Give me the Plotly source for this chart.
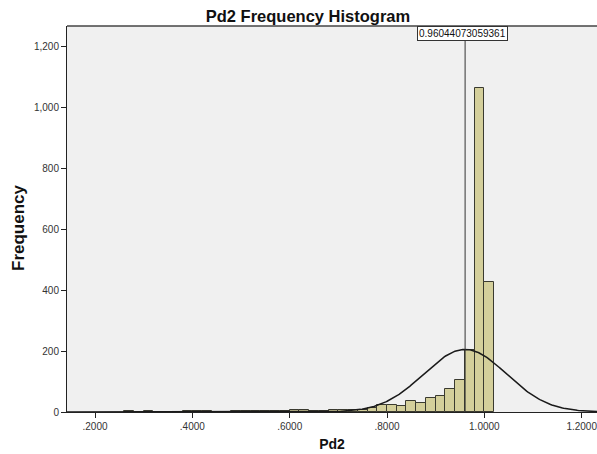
import numpy as np
import plotly.graph_objects as go

# ---- data ----
bin_width = 0.02
bin_lo = [0.26, 0.28, 0.30, 0.34, 0.38, 0.40, 0.42, 0.46, 0.48, 0.50, 0.52, 0.54,
          0.56, 0.58, 0.60, 0.62, 0.64, 0.66, 0.68, 0.70, 0.72, 0.74, 0.76, 0.78,
          0.80, 0.82, 0.84, 0.86, 0.88, 0.90, 0.92, 0.94, 0.96, 0.98, 1.00]
counts = [3, 1, 2, 1, 2, 4, 2, 1, 2, 3, 2, 2,
          3, 3, 6, 5, 4, 4, 5, 6, 7, 8, 14, 22,
          22, 20, 37, 30, 46, 54, 76, 105, 204, 1061, 425]
mean_val = 0.96044073059361
std_val = 0.0853
x_ticks = [0.2, 0.4, 0.6, 0.8, 1.0, 1.2]
x_tick_labels = [".2000", ".4000", ".6000", ".8000", "1.0000", "1.2000"]
y_ticks = [0, 200, 400, 600, 800, 1000, 1200]
y_tick_labels = ["0", "200", "400", "600", "800", "1,000", "1,200"]

centers = [b + bin_width / 2 for b in bin_lo]
n_total = sum(counts)

xs = np.linspace(0.1425, 1.2315, 400)
ys = n_total * bin_width / (std_val * np.sqrt(2 * np.pi)) * np.exp(-0.5 * ((xs - mean_val) / std_val) ** 2)

fig = go.Figure()
fig.add_trace(go.Bar(
    x=centers, y=counts, width=bin_width,
    marker=dict(color="#D4CF9B", line=dict(color="#3a3a30", width=1)),
    hoverinfo="x+y", showlegend=False,
))
fig.add_trace(go.Scatter(
    x=xs, y=ys, mode="lines", line=dict(color="#1a1a1a", width=1.5),
    showlegend=False, hoverinfo="skip",
))

fig.add_shape(type="line", x0=mean_val, x1=mean_val, y0=0, y1=1, yref="paper",
              line=dict(color="#333333", width=1))
fig.add_annotation(x=mean_val, y=1, yref="paper", xanchor="center", yanchor="top",
                   text=f"{mean_val:.14f}", showarrow=False, xshift=-3,
                   font=dict(family="Arial, Liberation Sans", size=10, color="#111111"),
                   bgcolor="white", bordercolor="#333333", borderwidth=1, borderpad=1)

W, H = 597, 454
ML, MR, MT, MB = 67, 0, 26, 42
fig.update_layout(
    width=W, height=H,
    margin=dict(l=ML, r=MR, t=MT, b=MB, autoexpand=False),
    paper_bgcolor="white", plot_bgcolor="#F0F0F0",
    font=dict(family="Arial, Liberation Sans", color="#222222"),
    bargap=0,
    title=dict(text="<b>Pd2 Frequency Histogram</b>", x=308 / W, xanchor="center",
               y=1 - 16 / H, yanchor="middle", font=dict(size=16.5, color="#111111")),
)
fig.update_xaxes(
    range=[0.14247, 1.23145], tickvals=x_ticks, ticktext=x_tick_labels,
    ticks="outside", ticklen=5, tickcolor="#222222", tickfont=dict(size=10, color="#333333"),
    ticklabeloverflow="allow",
    showline=True, linecolor="#222222", linewidth=1, showgrid=False, zeroline=False,
    title=dict(text="<b>Pd2</b>", font=dict(size=14, color="#111111"), standoff=8),
)
fig.update_yaxes(
    range=[0, 1265.6], tickvals=y_ticks, ticktext=y_tick_labels,
    ticks="outside", ticklen=5, tickcolor="#222222", tickfont=dict(size=10, color="#333333"),
    showline=True, linecolor="#222222", linewidth=1, showgrid=False, zeroline=False,
    mirror=False,
)
# y-axis title placed as a rotated annotation for exact positioning
fig.add_annotation(xref="paper", yref="paper", x=(18 - ML) / (W - ML - MR),
                   y=(H - MB - 228) / (H - MB - MT), xanchor="center", yanchor="middle",
                   text="<b>Frequency</b>", textangle=-90, showarrow=False,
                   font=dict(size=17, color="#111111"))
# top border of the plot area
fig.add_shape(type="line", xref="paper", yref="paper", x0=0, x1=1, y0=1, y1=1,
              line=dict(color="#444444", width=1.5))

# remove the default page margin so the figure fills the window exactly
fig.write_html(
    "out.html",
    config={"displayModeBar": False},
    post_script="document.body.style.margin='0px';"
                "document.documentElement.style.overflow='hidden';",
)
